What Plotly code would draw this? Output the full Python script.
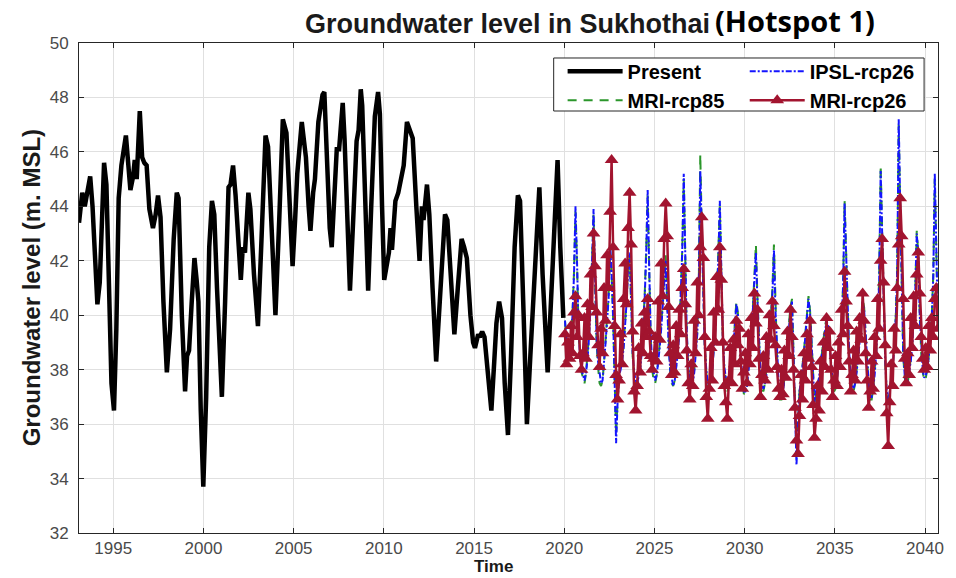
import plotly.graph_objects as go

# Observed groundwater level (decimal year, m. MSL)
present_year = [
    1993.10, 1993.28, 1993.42, 1993.55, 1993.72, 1993.85, 1994.00, 1994.12, 1994.25, 1994.36,
    1994.49, 1994.62, 1994.75, 1994.90, 1995.04, 1995.17, 1995.30, 1995.45, 1995.70, 1995.85,
    1995.95, 1996.10, 1996.19, 1996.30, 1996.47, 1996.60, 1996.72, 1996.85, 1997.00, 1997.20,
    1997.35, 1997.48, 1997.62, 1997.78, 1997.97, 1998.15, 1998.35, 1998.52, 1998.62, 1998.80,
    1998.98, 1999.09, 1999.20, 1999.35, 1999.50, 1999.62, 1999.72, 1999.85, 1999.99, 2000.15,
    2000.32, 2000.47, 2000.60, 2000.75, 2001.02, 2001.20, 2001.39, 2001.50, 2001.64, 2001.78,
    2001.95, 2002.07, 2002.18, 2002.30, 2002.49, 2002.60, 2002.80, 2003.02, 2003.20, 2003.44,
    2003.58, 2003.80, 2003.99, 2004.20, 2004.40, 2004.60, 2004.80, 2004.94, 2005.08, 2005.20,
    2005.45, 2005.55, 2005.68, 2005.83, 2005.93, 2006.08, 2006.18, 2006.37, 2006.60, 2006.70,
    2006.85, 2007.00, 2007.11, 2007.25, 2007.39, 2007.52, 2007.72, 2007.82, 2007.95, 2008.12,
    2008.30, 2008.49, 2008.60, 2008.72, 2008.80, 2008.95, 2009.13, 2009.30, 2009.50, 2009.68,
    2009.78, 2009.90, 2010.02, 2010.28, 2010.37, 2010.45, 2010.64, 2010.80, 2010.95, 2011.10,
    2011.28, 2011.47, 2011.60, 2011.80, 2011.98, 2012.11, 2012.20, 2012.39, 2012.52, 2012.70,
    2012.90, 2013.10, 2013.30, 2013.39, 2013.52, 2013.70, 2013.91, 2014.10, 2014.31, 2014.45,
    2014.60, 2014.80, 2014.95, 2015.05, 2015.23, 2015.32, 2015.45, 2015.58, 2015.75, 2015.96,
    2016.12, 2016.24, 2016.39, 2016.55, 2016.70, 2016.88, 2017.05, 2017.25, 2017.43, 2017.55,
    2017.75, 2017.93, 2018.12, 2018.35, 2018.50, 2018.62, 2018.80, 2019.08, 2019.30, 2019.50,
    2019.63, 2019.78, 2019.95,
]
present_level = [
    43.4, 44.5, 44.0, 44.5, 45.1, 44.0, 41.5, 40.4, 41.2, 43.5,
    45.6, 44.8, 40.8, 37.5, 36.5, 39.5, 44.3, 45.5, 46.6, 45.3,
    44.6, 45.1, 45.7, 45.0, 47.5, 45.8, 45.6, 45.5, 43.9, 43.2,
    43.7, 44.4, 43.6, 40.5, 37.9, 39.5, 42.8, 44.5, 44.3, 40.0,
    37.2, 38.5, 38.7, 40.5, 42.1, 41.3, 40.5, 36.5, 33.7, 37.0,
    42.5, 44.2, 43.7, 41.0, 37.0, 40.5, 44.7, 44.8, 45.5, 44.4,
    42.5, 41.3, 42.5, 42.3, 44.5, 43.9, 41.5, 39.6, 42.5, 46.6,
    46.2, 42.5, 40.0, 43.5, 47.2, 46.7, 43.2, 41.8, 43.5, 45.2,
    47.1, 46.4, 45.8, 44.0, 43.1, 44.5, 45.0, 47.1, 48.1, 48.2,
    45.5, 43.2, 42.5, 44.5, 46.1, 46.1, 47.8, 46.5, 43.5, 40.9,
    43.5, 46.4, 46.8, 48.3, 47.7, 44.0, 40.9, 44.0, 47.3, 48.2,
    47.4, 44.0, 41.3, 42.3, 43.2, 42.4, 44.2, 44.5, 45.1, 45.5,
    47.1, 46.8, 46.5, 44.0, 42.0, 44.0, 43.5, 44.8, 43.7, 41.0,
    38.3, 40.5, 43.0, 43.7, 43.5, 41.5, 39.3, 41.0, 42.8, 42.5,
    42.1, 40.0, 39.0, 38.8, 39.3, 39.2, 39.4, 39.2, 38.0, 36.5,
    38.3, 39.7, 40.5, 39.9, 37.5, 35.6, 38.5, 42.5, 44.4, 44.2,
    40.0, 36.0, 38.5, 41.5, 43.0, 44.7, 41.5, 37.9, 41.0, 44.0,
    45.7, 42.5, 39.9,
]

# Projected monthly levels, January 2020 to September 2040
ipsl_rcp26 = [
    39.8, 39.0, 38.6, 38.5, 39.0, 40.0, 41.5, 44.0, 42.0, 39.5, 38.5, 38.0,  # 2020
    37.8, 37.6, 37.9, 38.4, 39.2, 40.3, 42.0, 43.9, 41.5, 39.2, 38.3, 37.8,  # 2021
    37.5, 37.6, 38.2, 39.0, 39.8, 40.6, 42.6, 41.6, 40.0, 37.0, 35.3, 36.8,  # 2022
    37.8, 38.0, 38.3, 38.8, 39.5, 40.5, 41.8, 42.3, 40.5, 38.6, 37.9, 37.6,  # 2023
    37.5, 37.7, 38.0, 38.6, 39.4, 40.6, 42.2, 44.6, 41.8, 39.3, 38.2, 37.8,  # 2024
    37.6, 37.8, 38.2, 38.8, 39.5, 40.3, 41.2, 42.0, 40.4, 38.8, 38.0, 37.6,  # 2025
    37.4, 37.6, 38.0, 38.6, 39.3, 40.5, 42.3, 45.2, 42.0, 39.4, 38.2, 37.6,  # 2026
    37.4, 37.5, 37.9, 38.5, 39.3, 41.0, 45.3, 43.0, 40.4, 38.8, 38.0, 37.5,  # 2027
    37.5, 37.6, 38.0, 38.7, 39.5, 40.6, 42.0, 44.2, 41.6, 39.2, 38.1, 37.6,  # 2028
    37.3, 37.4, 37.8, 38.2, 38.8, 39.5, 40.4, 40.0, 39.2, 38.4, 37.7, 37.2,  # 2029
    37.2, 37.4, 37.9, 38.5, 39.2, 40.2, 41.3, 42.3, 40.6, 38.9, 37.9, 37.4,  # 2030
    37.3, 37.5, 37.8, 38.4, 39.0, 39.8, 40.8, 42.4, 40.2, 38.6, 37.6, 37.0,  # 2031
    37.0, 37.2, 37.6, 38.1, 38.8, 39.6, 40.2, 40.5, 38.8, 36.6, 34.5, 36.0,  # 2032
    37.2, 37.6, 38.0, 38.6, 39.3, 40.0, 40.6, 40.1, 39.0, 37.6, 36.8, 37.2,  # 2033
    37.4, 37.7, 38.2, 38.6, 39.0, 39.5, 39.8, 39.6, 38.9, 38.2, 37.6, 37.3,  # 2034
    37.4, 37.7, 38.2, 38.9, 39.7, 41.0, 44.1, 42.4, 40.2, 38.7, 37.8, 37.4,  # 2035
    37.3, 37.5, 37.9, 38.4, 39.0, 39.7, 40.5, 40.2, 39.2, 38.2, 37.5, 37.0,  # 2036
    37.0, 37.3, 37.8, 38.6, 39.6, 41.2, 45.3, 43.0, 40.2, 38.4, 37.2, 36.8,  # 2037
    37.2, 37.6, 38.1, 38.8, 39.8, 41.6, 47.2, 44.0, 40.5, 38.6, 37.8, 37.5,  # 2038
    37.6, 37.9, 38.3, 38.9, 39.7, 40.8, 43.0, 42.2, 40.0, 38.7, 38.0, 37.7,  # 2039
    37.8, 38.0, 38.4, 39.0, 39.9, 41.4, 45.2, 42.5, 39.8,                    # 2040
]
mri_rcp85 = [
    39.8, 39.0, 38.7, 38.5, 39.1, 40.1, 41.6, 43.8, 41.9, 39.5, 38.4, 37.9,  # 2020
    37.7, 37.5, 37.9, 38.5, 39.3, 40.4, 42.1, 43.7, 41.3, 39.0, 38.1, 37.5,  # 2021
    37.4, 37.6, 38.3, 39.1, 39.9, 40.7, 42.5, 41.5, 39.9, 37.2, 35.6, 36.9,  # 2022
    37.8, 38.1, 38.4, 38.9, 39.6, 40.6, 41.9, 42.2, 40.4, 38.5, 37.8, 37.5,  # 2023
    37.4, 37.7, 38.1, 38.7, 39.5, 40.7, 42.4, 44.4, 41.7, 39.2, 38.0, 37.6,  # 2024
    37.5, 37.8, 38.3, 38.9, 39.6, 40.4, 41.4, 42.2, 40.5, 38.8, 37.9, 37.5,  # 2025
    37.4, 37.6, 38.1, 38.7, 39.4, 40.6, 42.4, 45.0, 41.9, 39.3, 38.1, 37.5,  # 2026
    37.4, 37.6, 38.0, 38.6, 39.4, 41.2, 45.9, 43.2, 40.5, 38.8, 37.9, 37.4,  # 2027
    37.4, 37.6, 38.1, 38.8, 39.6, 40.7, 42.1, 44.0, 41.5, 39.1, 38.0, 37.5,  # 2028
    37.2, 37.4, 37.8, 38.3, 38.9, 39.6, 40.5, 40.1, 39.2, 38.3, 37.6, 37.1,  # 2029
    37.2, 37.4, 38.0, 38.6, 39.3, 40.3, 41.5, 42.6, 40.7, 38.9, 37.8, 37.3,  # 2030
    37.2, 37.5, 37.9, 38.5, 39.1, 39.9, 41.0, 42.6, 40.3, 38.6, 37.5, 36.9,  # 2031
    36.9, 37.2, 37.7, 38.2, 38.9, 39.7, 40.3, 40.6, 38.9, 36.8, 34.8, 36.1,  # 2032
    37.2, 37.6, 38.1, 38.7, 39.4, 40.1, 40.7, 40.2, 39.0, 37.6, 36.8, 37.1,  # 2033
    37.3, 37.7, 38.2, 38.7, 39.1, 39.6, 39.9, 39.7, 38.9, 38.1, 37.5, 37.2,  # 2034
    37.3, 37.7, 38.3, 39.0, 39.8, 41.1, 44.2, 42.5, 40.2, 38.6, 37.7, 37.3,  # 2035
    37.2, 37.5, 38.0, 38.5, 39.1, 39.8, 40.6, 40.3, 39.2, 38.1, 37.4, 36.9,  # 2036
    36.9, 37.3, 37.9, 38.7, 39.7, 41.4, 45.5, 43.1, 40.2, 38.3, 37.1, 36.7,  # 2037
    37.1, 37.6, 38.2, 38.9, 39.9, 41.7, 47.0, 43.9, 40.4, 38.5, 37.7, 37.4,  # 2038
    37.5, 37.9, 38.4, 39.0, 39.8, 40.9, 43.1, 42.3, 40.0, 38.6, 37.9, 37.6,  # 2039
    37.7, 38.0, 38.5, 39.1, 40.0, 41.5, 45.0, 42.4, 39.7,                    # 2040
]
mri_rcp26 = [
    39.3, 38.2, 39.0, 38.4, 39.6, 38.6, 40.1, 40.7, 39.2, 40.0, 38.5, 38.0,  # 2020
    38.6, 39.9, 38.4, 40.4, 39.2, 41.5, 40.3, 43.0, 41.8, 40.1, 38.9, 38.1,  # 2021
    39.5, 38.6, 41.0, 39.8, 42.2, 41.0, 43.8, 45.7, 42.5, 39.6, 37.8, 36.9,  # 2022
    37.6, 39.3, 38.2, 40.6, 41.9, 40.4, 43.2, 44.5, 42.6, 39.4, 37.2, 36.5,  # 2023
    37.4, 38.8, 37.9, 39.7, 38.6, 40.1, 39.2, 40.6, 39.4, 38.5, 38.0, 38.4,  # 2024
    39.2, 38.3, 40.5, 39.1, 41.9, 40.7, 42.8, 44.1, 42.9, 40.3, 38.6, 37.8,  # 2025
    38.9, 37.9, 39.6, 38.5, 40.2, 39.3, 41.0, 41.7, 40.4, 38.7, 37.5, 36.9,  # 2026
    38.2, 37.4, 39.8, 38.6, 41.2, 40.0, 42.5, 43.6, 42.1, 39.2, 37.0, 36.2,  # 2027
    37.3, 38.8, 37.6, 40.1, 39.0, 41.4, 40.2, 42.5, 41.3, 39.0, 37.4, 36.8,  # 2028
    36.2, 37.6, 38.8, 37.5, 39.1, 38.2, 39.8, 38.9, 39.5, 38.3, 37.3, 37.9,  # 2029
    38.6, 37.5, 39.3, 38.2, 39.9, 38.8, 40.8, 39.7, 40.2, 38.4, 37.0, 37.8,  # 2030
    38.5, 37.6, 39.2, 38.0, 40.0, 39.1, 40.5, 39.6, 38.9, 38.1, 37.3, 37.0,  # 2031
    38.0, 37.1, 38.7, 37.7, 39.4, 38.5, 40.2, 39.2, 38.0, 36.6, 35.4, 34.9,  # 2032
    36.3, 37.8, 36.9, 38.6, 37.6, 39.3, 38.4, 39.8, 38.1, 36.7, 35.5, 36.2,  # 2033
    37.4, 36.5, 38.3, 37.2, 39.0, 38.1, 39.9, 38.8, 39.4, 38.0, 37.0, 37.6,  # 2034
    38.5, 37.4, 39.0, 38.1, 40.2, 39.3, 41.6, 40.5, 39.6, 38.3, 37.2, 37.8,  # 2035
    38.7, 37.6, 39.4, 38.3, 39.9, 39.1, 40.8, 39.8, 38.6, 37.6, 36.6, 37.2,  # 2036
    38.3, 37.3, 39.2, 38.5, 40.6, 39.5, 42.0, 42.8, 41.2, 38.9, 36.4, 35.2,  # 2037
    36.8, 38.2, 37.4, 39.5, 38.7, 41.0, 42.6, 44.3, 42.9, 40.6, 38.4, 37.5,  # 2038
    38.6, 37.8, 39.9, 38.8, 40.7, 39.6, 41.5, 42.3, 40.8, 39.2, 38.4, 38.0,  # 2039
    38.8, 38.1, 39.6, 38.7, 39.9, 39.2, 40.6, 41.0, 39.5,                    # 2040
]

# mid-month decimal year for each projected value
future_year = [2020 + (i + 0.5) / 12 for i in range(len(mri_rcp26))]

x_ticks = [1995, 2000, 2005, 2010, 2015, 2020, 2025, 2030, 2035, 2040]
y_ticks = [32, 34, 36, 38, 40, 42, 44, 46, 48, 50]

BLUE = "#1414ff"
GREEN = "#2b962b"
RED = "#a2142f"
FONT = "Liberation Sans, Arial, sans-serif"

fig = go.Figure()

fig.add_trace(go.Scatter(
    x=present_year, y=present_level, mode="lines", name="Present",
    line=dict(color="black", width=4.5), legend="legend",
))
fig.add_trace(go.Scatter(
    x=future_year, y=mri_rcp85, mode="lines", name="MRI-rcp85",
    line=dict(color=GREEN, width=2, dash="9px,7px"), legend="legend",
))
fig.add_trace(go.Scatter(
    x=future_year, y=ipsl_rcp26, mode="lines", name="IPSL-rcp26",
    line=dict(color=BLUE, width=2, dash="6px,2px,2px,2px"), legend="legend2",
))
fig.add_trace(go.Scatter(
    x=future_year, y=mri_rcp26, mode="lines+markers", name="MRI-rcp26",
    line=dict(color=RED, width=2.5),
    marker=dict(symbol="triangle-up", size=12, color=RED),
    legend="legend2",
))

axis_common = dict(
    showline=True, linecolor="#262626", linewidth=1, mirror="ticks",
    ticks="inside", ticklen=5, tickcolor="#262626",
    showgrid=True, gridcolor="#e0e0e0", gridwidth=1,
    zeroline=False,
    tickfont=dict(family=FONT, size=17, color="#4a4a4a"),
)

fig.update_xaxes(range=[1993.1, 2040.72], tickmode="array", tickvals=x_ticks,
                 ticktext=[str(v) for v in x_ticks], **axis_common)
fig.update_yaxes(range=[32, 50], tickmode="array", tickvals=y_ticks,
                 ticktext=[str(v) for v in y_ticks], ticklabelstandoff=6, **axis_common)

legend_common = dict(
    orientation="v", bgcolor="rgba(0,0,0,0)", borderwidth=0,
    font=dict(family=FONT, size=20, color="black", weight="bold"),
    itemwidth=55, xanchor="left", yanchor="top", tracegroupgap=0,
    itemclick=False, itemdoubleclick=False,
)

fig.update_layout(
    width=956, height=578,
    margin=dict(l=79, r=12, t=43, b=45),
    paper_bgcolor="white", plot_bgcolor="white",
    showlegend=True,
    legend=dict(x=0.563, y=0.982, **legend_common),
    legend2=dict(x=0.775, y=0.982, **legend_common),
    shapes=[dict(
        type="rect", xref="paper", yref="paper",
        x0=0.5526, x1=0.9838, y0=0.8612, y1=0.9694,
        fillcolor="white", line=dict(color="#262626", width=1), layer="above",
    )],
    annotations=[
        dict(text="Groundwater level in Sukhothai", xref="paper", yref="paper",
             x=(510 - 79) / 865, y=1 + (43 - 24) / 490, xanchor="center", yanchor="middle",
             showarrow=False, font=dict(family=FONT, size=27, color="#1a1a1a", weight="bold")),
        dict(text="(Hotspot 1)", xref="paper", yref="paper",
             x=(717 - 79) / 865, y=1 + (43 - 21) / 490, xanchor="left", yanchor="middle",
             showarrow=False, font=dict(family="Open Sans, sans-serif", size=29, color="black", weight="bold")),
        dict(text="Groundwater level (m. MSL)", xref="paper", yref="paper",
             x=(31 - 79) / 865, y=0.5, xanchor="center", yanchor="middle", textangle=-90,
             showarrow=False, font=dict(family=FONT, size=24, color="#1a1a1a", weight="bold")),
        dict(text="Time", xref="paper", yref="paper",
             x=(496 - 79) / 865, y=-(578 - 533) / 490, xanchor="center", yanchor="bottom",
             showarrow=False, font=dict(family=FONT, size=17, color="#1a1a1a", weight="bold")),
    ],
)

fig.write_html("out.html")
